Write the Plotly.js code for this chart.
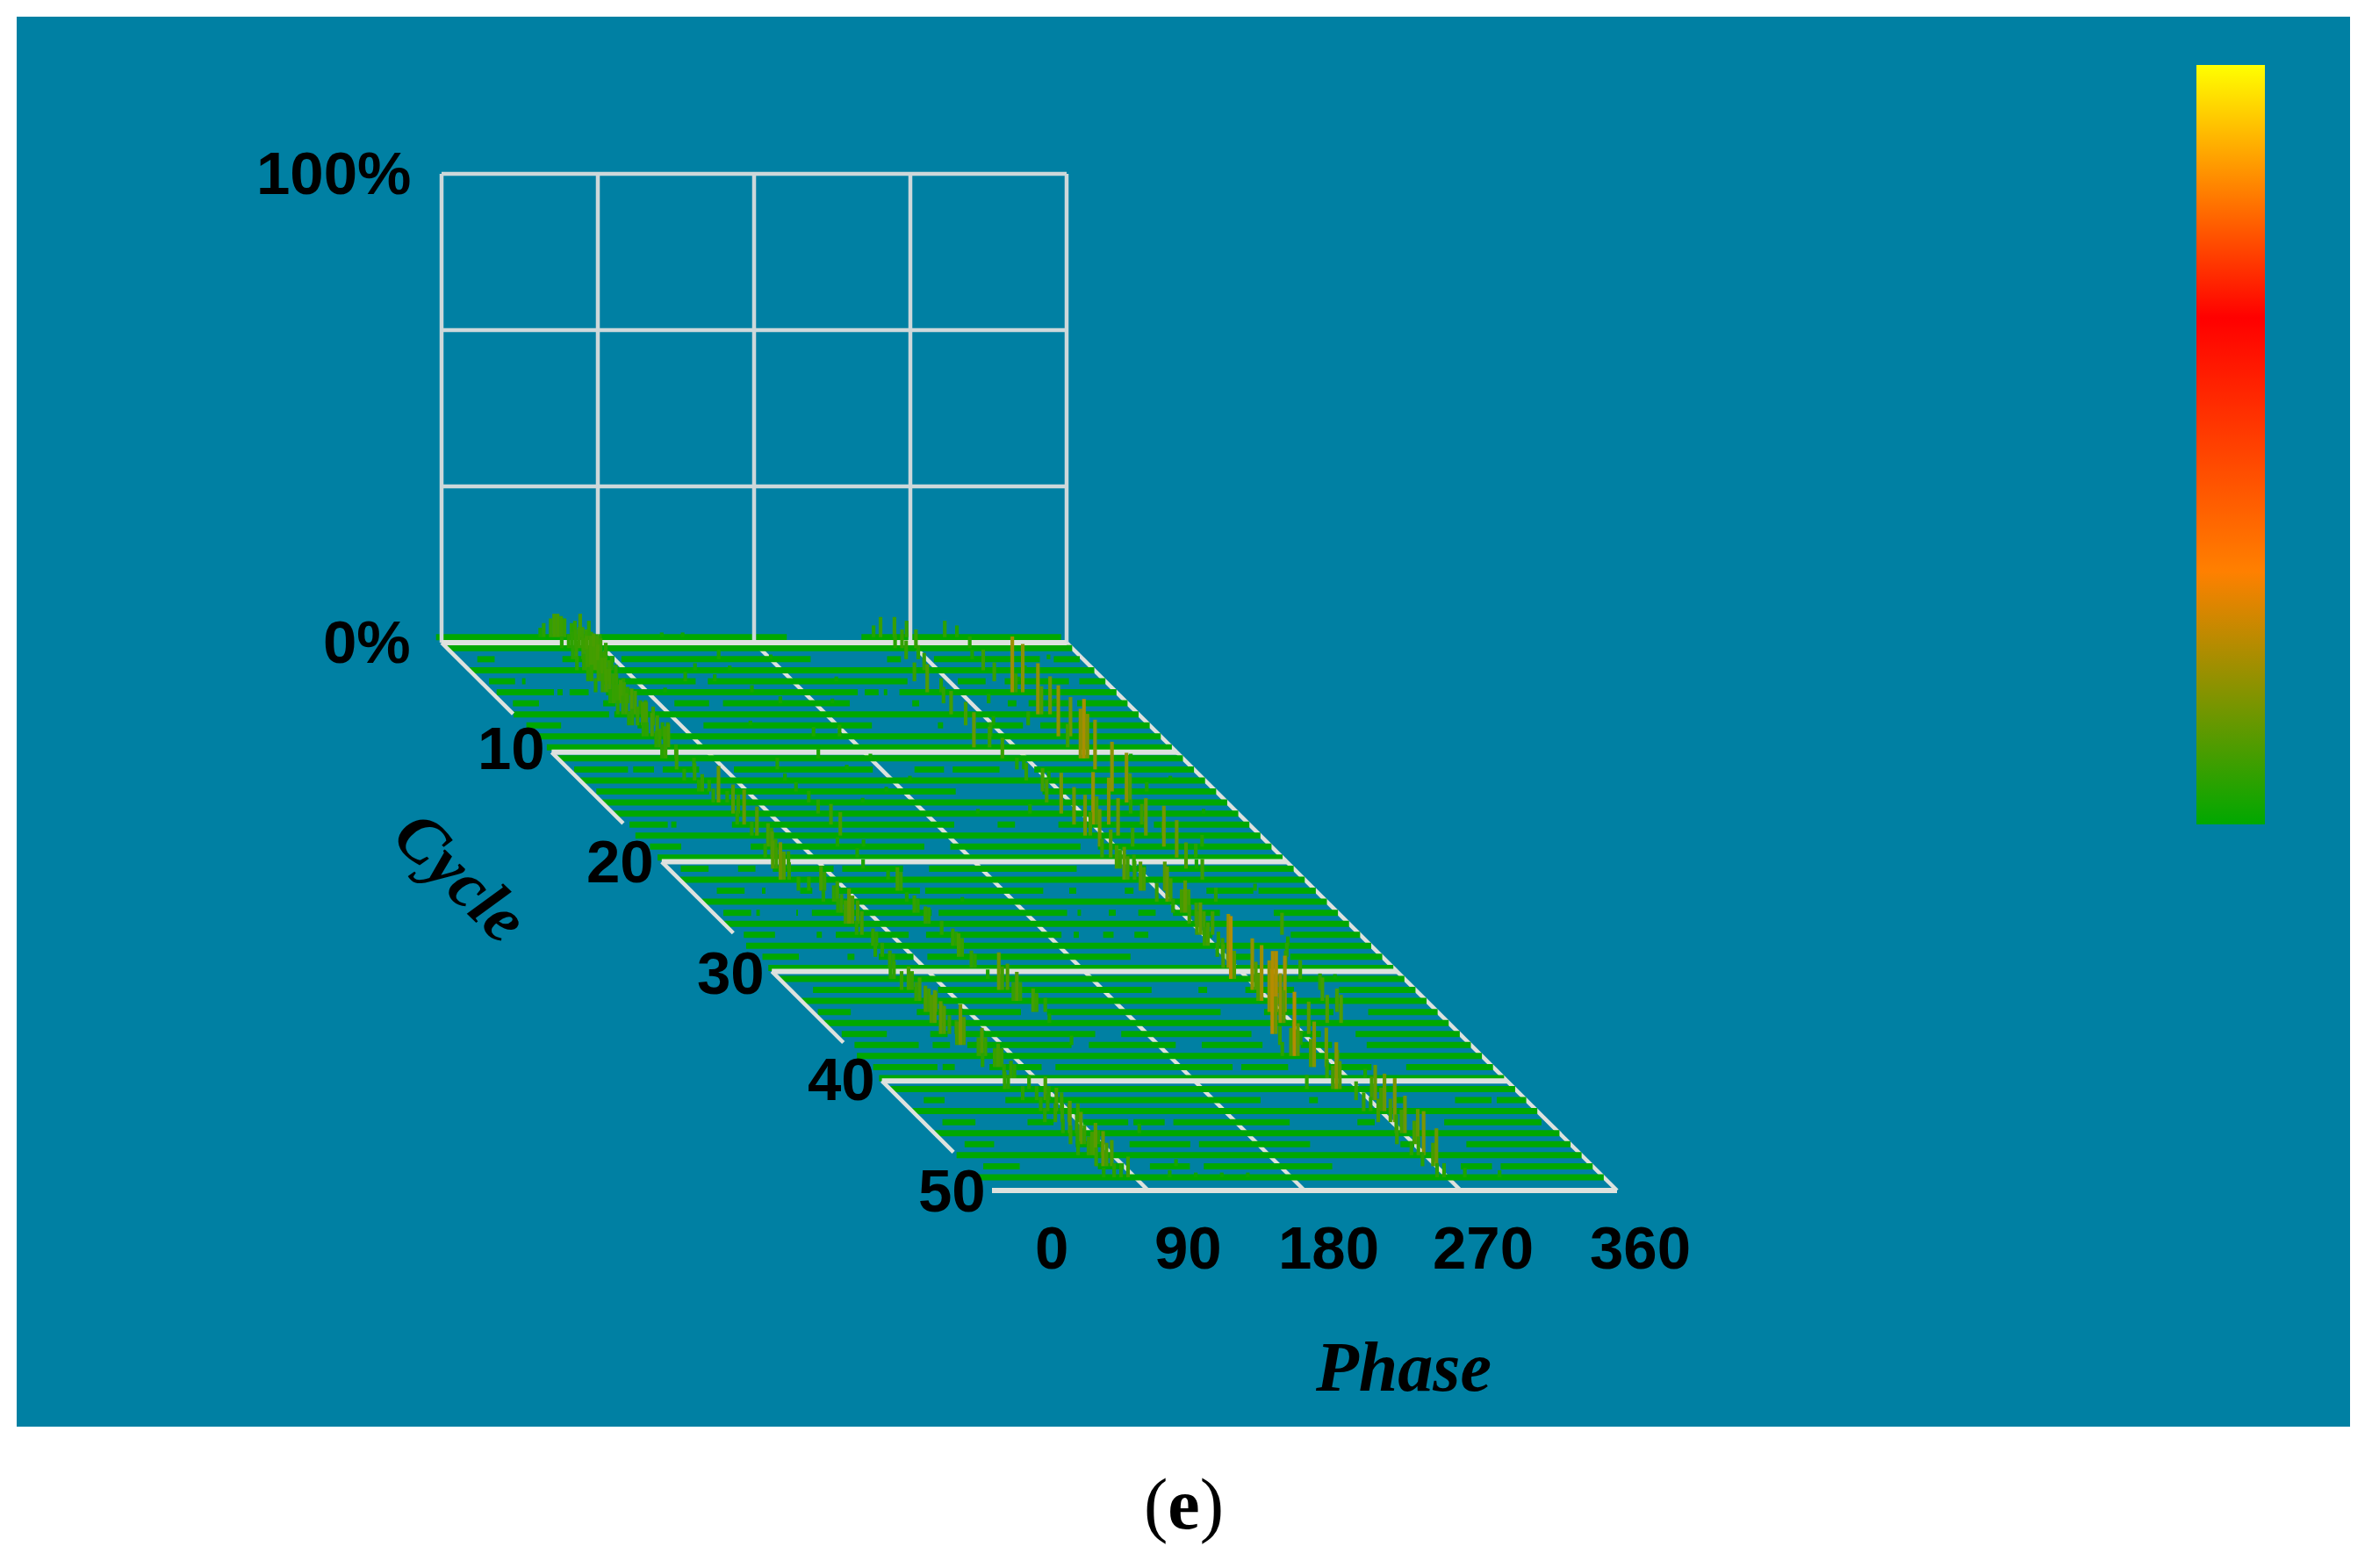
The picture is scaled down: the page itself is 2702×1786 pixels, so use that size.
<!DOCTYPE html>
<html>
<head>
<meta charset="utf-8">
<script src="https://cdn.plot.ly/plotly-3.0.1.min.js"></script>
<style>body { margin: 0; background: #fff; }</style>
</head>
<body>
<div id="myDiv"></div>
<script>
// values
var phaseTicks = [0, 90, 180, 270, 360];
var cycleTicks = [10, 20, 30, 40, 50];
var cycleLines = [0, 10, 20, 30, 40, 50];
var ampLevels = [0, 33.33, 66.67, 100];
var ampLabels = ['0%', '100%'];

// green floor strip of each cycle, as [from, to] phase pieces
var full = [[0, 360]];
var rowSegments = [
    [[0,202],[245,360]], full,
    [[11,21],[60,90],[94,203],[247,255],[274,335],[343,358]], full,
    [[5,20],[24,26],[70,124],[131,246],[275,291],[302,339],[345,360]],
    [[3,36],[38,41],[45,56],[66,211],[215,223],[226,228],[235,360]],
    [[6,21],[58,65],[99,119],[127,200],[236,240],[291,296],[303,326],[331,360]],
    [[0,55],[58,360]],
    [[1,21],[65,70],[103,200],[238,241],[260,287],[297,360]], full,
    full, full,
    [[3,34],[37,49],[54,75],[95,175],[199,216],[221,248],[268,360]], full,
    [[3,68],[72,210],[260,360]], full,
    full,
    [[3,25],[27,30],[62,190],[215,225],[250,300],[305,360]], full,
    [[2,20],[60,160],[175,250],[260,360]], full,
    [[7,23],[40,50],[60,95],[100,135],[150,235],[265,275],[285,360]], full,
    [[15,31],[41,43],[63,70],[85,132],[135,203],[218,222],[250,255],[297,324],[327,360]], full,
    [[6,22],[25,27],[48,49],[57,126],[130,204],[210,212],[228,232],[245,255],[265,292],[323,360]], full,
    [[5,23],[47,50],[58,100],[110,188],[195,198],[212,218],[230,238],[270,275],[320,360]], full,
    [[3,24],[52,56],[70,90],[98,215],[270,285],[307,360]], full,
    full,
    [[13,75],[85,208],[235,240],[262,290],[316,360]], full,
    [[3,22],[60,120],[135,235],[260,300],[320,360]], full,
    [[4,30],[55,65],[70,150],[165,240],[262,280],[300,360]],
    [[5,42],[50,60],[70,130],[140,190],[205,240],[262,280],[300,360]], full,
    [[3,40],[43,50],[70,100],[108,210],[215,242],[265,290],[310,360]], full,
    full,
    [[13,25],[60,207],[235,240],[285,290],[319,340],[343,360]], full,
    [[11,30],[60,75],[92,118],[121,139],[144,211],[250,260],[300,356]], full,
    [[11,28],[75,90],[106,141],[146,210],[262,270],[300,360]], full,
    [[9,30],[75,90],[105,128],[136,210],[284,302],[307,360]], full
];

// discharge stems of each cycle, as [phase, amplitude %]
var rowStems = [
    [[60,2],[62,3],[66,4],[68,5],[70,5],[72,4.5],[74,4],[78,3],[80,3.5],[83,5],[88,3.5],[130,1],[142,1],[252,2.5],[256,4.3],[264,4.3],[271,3.5],[293,3.5],[300,2.5]],
    [[66,2.5],[70,3],[72,3.5],[74,4],[76,4.5],[78,4.5],[80,4],[83,3.5],[86,3],[88,3],[258,3],[262,4],[270,4],[301,2.5]],
    [[66,3],[68,4],[72,4.5],[74,5],[76,5],[78,5.5],[80,5],[82,4.5],[85,3.5],[150,2],[180,1],[258,4],[265,3],[296,2],[340,1]],
    [[62,3],[66,3.5],[68,4.5],[70,5],[72,5],[74,5.5],[76,4],[78,4],[82,3],[130,1.5],[150,1],[262,3.7],[296,4.4],[320,1]],
    [[62,3],[64,3.5],[68,4.5],[70,5],[72,5],[74,4.5],[78,3.5],[118,2],[135,1.5],[205,1],[250,4],[296,4],[310,1]],
    [[60,3],[64,4],[66,5],[68,5],[70,4],[72,4],[76,3],[100,1],[150,1.5],[251,6],[259,3],[300,11.9],[302,4],[306,10.3]],
    [[62,3],[64,4],[66,4],[68,5],[70,4.5],[72,3.5],[160,1.5],[190,1],[254,3.5],[280,2],[318,1]],
    [[60,3],[63,4],[65,4.5],[68,5.5],[70,5],[73,3],[76,3],[252,5],[302,10.9],[304,6],[309,8.1]],
    [[60,3],[62,3.5],[65,4],[68,5],[70,5],[74,4],[130,1],[254,5],[270,2],[290,3],[320,1]],
    [[62,3],[64,3],[67,5],[70,4.5],[73,3],[76,3],[160,2],[175,2.5],[262,3],[301,10.9],[308,8.4]],
    [[63,3.5],[65,4],[68,4.5],[70,5],[246,7.5],[255,4.4],[300,5]],
    [[60,3],[62,4],[68,3],[150,2],[180,1],[256,4.4],[301,10.6],[303,12.7],[305,9.5],[330,1]],
    [[62,4.4],[72,2.5],[120,2.5],[160,1],[258,2.5],[262,2],[303,10.6]],
    [[60,2.5],[66,3.7],[118,1.5],[190,1],[257,3.7],[270,2],[340,1]],
    [[62,2.5],[64,3.7],[68,2.5],[118,2],[170,1],[260,5],[300,10.6],[320,2]],
    [[64,3],[67,7.8],[72,2.5],[119,2.5],[150,1],[256,5],[302,10.6],[304,6.2]],
    [[69,6.2],[72,4],[118,3],[210,1],[240,2],[258,8.7],[298,3],[340,1]],
    [[65,3],[69,7.5],[119,4.4],[259,8],[270,11.2],[272,6],[279,10],[298,4.4]],
    [[67,3],[70,6.2],[118,5],[259,8.7],[262,5],[278,8],[294,8],[304,3]],
    [[70,5],[72,4],[110,2],[125,1.5],[261,8],[280,4],[298,8.7],[320,2.5]],
    [[62,3],[66,5.6],[68,4],[115,2],[256,4],[261,6],[299,8],[310,3]],
    [[60,6],[62,4.5],[69,3.7],[112,2],[258,5],[260,4],[268,3],[298,5.6],[304,2]],
    [[58,8],[60,6],[63,3.7],[120,2],[256,7],[258,5],[262,4],[301,4.4]],
    [[62,3],[68,3],[75,5.3],[77,4],[119,5],[121,4],[259,6.2],[261,5],[273,6.2],[325,1.5]],
    [[70,2.5],[76,3.5],[78,4.4],[118,2],[150,1],[262,4],[268,7.5],[270,5],[296,3]],
    [[72,3],[74,4],[116,3.7],[118,3],[265,3],[270,5],[272,6.9],[274,5]],
    [[70,5],[72,7.5],[74,6],[77,5],[116,3.7],[118,3.5],[268,4],[272,4.5]],
    [[70,3],[73,5],[119,3],[266,5],[268,6.9],[270,5],[275,5],[315,4.7]],
    [[73,3.7],[75,3],[119,3.7],[121,3],[264,4],[266,5],[272,3],[312,2]],
    [[68,3],[72,3],[116,5],[118,4],[265,3],[268,4],[305,3]],
    [[70,3.7],[72,3],[117,3.7],[119,3],[262,5],[265,11.5],[298,3.7]],
    [[64,3],[66,3.7],[120,2],[260,13.4],[262,6],[300,4],[320,1]],
    [[64,4],[68,5],[70,4],[120,8],[122,5],[125,5.6],[266,11],[268,6],[305,3.5]],
    [[66,4],[68,5],[122,4],[124,6.2],[126,4],[263,6],[265,11.9],[300,5]],
    [[65,5.6],[67,5],[71,4.4],[127,5],[129,4],[134,3],[263,11],[265,13],[267,13],[272,12],[302,5]],
    [[62,6],[64,7],[68,4],[130,2],[263,10.6],[265,7],[290,6],[298,6]],
    [[61,7],[63,6],[66,4],[70,3],[252,13.7],[254,8],[273,6.9]],
    [[64,5],[66,8.7],[68,6],[130,2],[250,4],[258,5],[262,3]],
    [[70,4],[72,6],[74,4],[245,3],[250,6],[252,13.7],[254,7]],
    [[66,3],[73,4],[75,5],[77,4],[255,6],[257,9.7],[264,8.4]],
    [[72,3],[76,3.7],[78,3],[258,4],[264,6],[280,2]],
    [[66,3.7],[68,3],[80,3],[240,3],[255,5],[257,10],[259,6]],
    [[70,3],[78,3],[83,5],[85,3],[262,4],[271,5],[273,7.5]],
    [[74,3],[78,3.5],[83,5],[86,4],[260,4],[264,3],[270,5],[272,8]],
    [[70,3],[76,4],[80,4],[84,4],[89,4],[262,5],[269,5],[271.5,9.4]],
    [[74,3],[78,6.9],[82,4],[118,2],[266,4],[269,5],[271,8]],
    [[72,4],[76,3],[78,6.9],[80,4],[88,3],[260,4],[270,5],[272,7.5]],
    [[70,3],[76,4],[78,5],[80,6.9],[84,3],[262,3],[266,4],[269,9.4]],
    [[74,4],[78,7.5],[80,5],[83,5.6],[120,1.5],[262,3],[268,5],[270,8.1]],
    [[72,2],[78,3],[82,3],[86,4.4],[110,1.5],[125,1],[140,1],[155,1],[264,3],[268,3],[280,2],[300,1.5]]
];

var W = 2702, H = 1786;
var pxPerDeg = 712 / 360, pxPerPct = 534 / 100;
var originX = 503, originY = 732;
var cycleDx = 12.54 / pxPerDeg;   // floor shear, in phase units per cycle
var cycleDy = 12.48 / pxPerPct;   // in percent per cycle
var bgColor = '#0080a3';
var floorGreen = 'rgb(0,168,0)';
var white = 'rgb(222,226,222)';
var stemColorMax = 58;
var heat = [[0, 'rgb(0,168,0)'], [0.333, 'rgb(255,128,0)'], [0.667, 'rgb(255,0,0)'], [1, 'rgb(255,255,0)']];

function projX(phase, cycle) { return phase + cycle * cycleDx; }
function projY(cycle, amp) { return amp - cycle * cycleDy; }
function rowCycle(k) { return -0.5 + k * 1.006; }

function lineTrace(xs, ys, color, width) {
    return {
        type: 'scatter', mode: 'lines', x: xs, y: ys, hoverinfo: 'skip',
        line: { color: color, width: width }, connectgaps: false
    };
}

// oblique floor lines running from back to front
var phaseX = [], phaseY = [];
phaseTicks.slice(1).forEach(function (p) {
    phaseX.push(projX(p, 0), projX(p, 50), null);
    phaseY.push(projY(0, 0), projY(50, 0), null);
});

var rowX = [], rowY = [];
rowSegments.forEach(function (segs, k) {
    var c = rowCycle(k);
    segs.forEach(function (s) {
        rowX.push(projX(s[0], c), projX(s[1], c), null);
        rowY.push(projY(c, 0), projY(c, 0), null);
    });
});

var cycX = [], cycY = [];
cycleLines.forEach(function (c) {
    cycX.push(projX(0, c), projX(360, c), null);
    cycY.push(projY(c, 0), projY(c, 0), null);
});

// left edge is broken under the cycle labels
var edgeX = [], edgeY = [];
cycleLines.slice(0, 5).forEach(function (c) {
    edgeX.push(projX(0, c), projX(0, c + 6.5), null);
    edgeY.push(projY(c, 0), projY(c + 6.5, 0), null);
});

var wallX = [], wallY = [];
ampLevels.slice(1).forEach(function (a) {
    wallX.push(0, 360, null);
    wallY.push(a, a, null);
});
phaseTicks.forEach(function (p) {
    wallX.push(p, p, null);
    wallY.push(0, 100, null);
});

var stemX = [], stemBase = [], stemAmp = [];
rowStems.forEach(function (stems, k) {
    var c = rowCycle(k);
    stems.forEach(function (s) {
        stemX.push(projX(s[0], c));
        stemBase.push(projY(c, 0));
        stemAmp.push(s[1]);
    });
});

var data = [
    lineTrace(phaseX, phaseY, white, 4.5),
    lineTrace(rowX, rowY, floorGreen, 7),
    lineTrace(wallX, wallY, 'rgb(205,216,218)', 4.5),
    lineTrace(cycX, cycY, white, 6),
    lineTrace(edgeX, edgeY, white, 4.5),
    {
        type: 'bar', x: stemX, y: stemAmp, base: stemBase, width: 2.1,
        xaxis: 'x2', yaxis: 'y2', hoverinfo: 'skip',
        marker: {
            color: stemAmp, cmin: 0, cmax: stemColorMax, colorscale: heat,
            line: { width: 0 },
            colorbar: {
                x: 2502 / W, xanchor: 'left', y: 1 - 74 / H, yanchor: 'top',
                thicknessmode: 'pixels', thickness: 78, lenmode: 'pixels', len: 865,
                xpad: 0, ypad: 0, outlinewidth: 0, borderwidth: 0,
                ticks: '', showticklabels: false
            }
        }
    }
];

var xRange = [-originX / pxPerDeg, (W - originX) / pxPerDeg];
var yRange = [(originY - H) / pxPerPct, originY / pxPerPct];

function label(text, px, py, anchor, size, family, angle) {
    return {
        text: text, xref: 'paper', yref: 'paper', x: px / W, y: 1 - py / H,
        xanchor: anchor, yanchor: 'middle', showarrow: false, textangle: angle || 0,
        font: { size: size, family: family, color: '#000' }
    };
}

var sans = 'Liberation Sans', serif = 'Liberation Serif';
var annotations = [
    label('<b>' + ampLabels[1] + '</b>', 470, 197, 'right', 69, sans),
    label('<b>' + ampLabels[0] + '</b>', 470, 732, 'right', 69, sans),
    label('<b><i>Cycle</i></b>', 525, 998, 'center', 77, serif, 44),
    label('<b><i>Phase</i></b>', 1599, 1557, 'center', 80, serif),
    label('(<b>e</b>)', 1348, 1713, 'center', 82, serif)
];
var cycleLabelRight = [623, 747, 873, 999, 1125];
var cycleLabelY = [853, 981, 1108, 1229, 1356];
cycleTicks.forEach(function (c, i) {
    annotations.push(label('<b>' + c + '</b>', cycleLabelRight[i], cycleLabelY[i], 'right', 69, sans));
});
var phaseLabelX = [1198, 1354, 1513, 1689, 1868];
phaseTicks.forEach(function (p, i) {
    annotations.push(label('<b>' + p + '</b>', phaseLabelX[i], 1421, 'center', 69, sans));
});

Plotly.newPlot('myDiv', data, {
    width: W, height: H,
    margin: { l: 0, r: 0, t: 0, b: 0 },
    paper_bgcolor: '#fff', plot_bgcolor: 'rgba(0,0,0,0)',
    showlegend: false,
    xaxis: { range: xRange, visible: false, fixedrange: true },
    yaxis: { range: yRange, visible: false, fixedrange: true },
    xaxis2: { range: xRange, visible: false, fixedrange: true, overlaying: 'x' },
    yaxis2: { range: yRange, visible: false, fixedrange: true, overlaying: 'y' },
    shapes: [{
        type: 'rect', xref: 'paper', yref: 'paper', layer: 'below',
        x0: 19 / W, x1: 2677 / W, y0: 1 - 1625 / H, y1: 1 - 19 / H,
        fillcolor: bgColor, line: { width: 0 }
    }],
    annotations: annotations
}, { displayModeBar: false });
</script>
</body>
</html>
